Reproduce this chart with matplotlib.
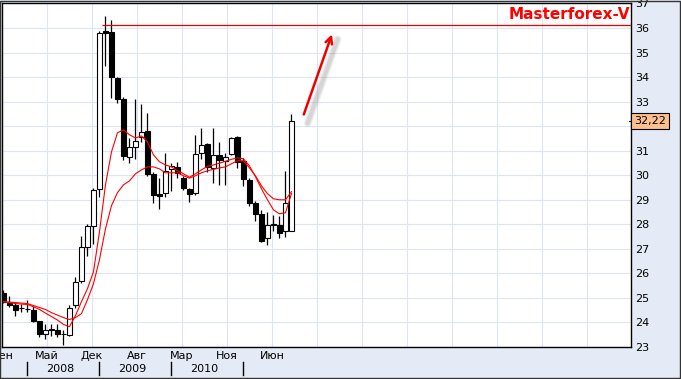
import numpy as np
import matplotlib
matplotlib.use('Agg')
import matplotlib.pyplot as plt

# monthly candles, Sep 2007 .. Sep 2011
opens  = [25.21, 24.80, 24.70, 24.59, 24.56, 24.50, 24.05, 23.54, 23.70, 23.71,
          23.55, 23.48, 24.70, 25.68, 27.08, 27.94, 29.44, 35.88, 35.85, 33.95,
          33.10, 30.76, 31.17, 31.54, 31.81, 30.06, 29.24, 29.27, 30.25, 30.33,
          29.88, 29.45, 29.27, 30.90, 31.27, 30.29, 30.83, 30.60, 30.87, 31.54,
          30.59, 29.79, 28.87, 28.43, 27.44, 27.97, 27.96, 27.74, 27.74]
highs  = [25.34, 25.07, 24.85, 24.77, 24.93, 24.66, 24.08, 23.92, 23.94, 23.92,
          23.71, 24.73, 25.86, 27.51, 28.02, 29.49, 35.88, 36.49, 36.32, 34.00,
          33.19, 31.51, 33.10, 32.89, 32.53, 30.14, 29.90, 30.90, 30.49, 30.56,
          29.98, 29.49, 31.65, 31.94, 31.32, 31.94, 31.36, 30.90, 31.56, 31.58,
          30.71, 29.90, 28.96, 28.57, 28.52, 28.39, 28.32, 30.19, 32.50]
lows   = [24.80, 24.65, 24.28, 24.44, 24.42, 24.00, 23.41, 23.31, 23.44, 23.40,
          23.10, 23.44, 24.59, 25.62, 26.69, 27.21, 29.13, 34.46, 33.15, 32.93,
          30.63, 30.49, 30.66, 31.37, 29.95, 28.87, 28.62, 29.11, 29.34, 29.90,
          29.41, 28.89, 29.20, 30.67, 30.14, 29.67, 29.61, 29.61, 30.83, 30.30,
          29.57, 28.76, 28.12, 27.28, 27.14, 27.71, 27.44, 27.50, 27.71]
closes = [24.84, 24.70, 24.50, 24.57, 24.54, 24.05, 23.51, 23.71, 23.72, 23.54,
          23.53, 24.59, 25.65, 27.08, 27.94, 29.41, 35.78, 35.81, 33.99, 33.10,
          30.80, 31.17, 31.40, 31.75, 30.05, 29.20, 29.16, 30.17, 30.37, 30.09,
          29.48, 29.22, 30.87, 31.23, 30.34, 30.83, 30.62, 30.74, 31.51, 30.55,
          29.83, 28.88, 28.44, 27.34, 27.98, 28.00, 27.65, 28.87, 32.22]

ma_fast = [24.84, 24.81, 24.77, 24.75, 24.73, 24.64, 24.53, 24.38, 24.24, 24.10,
           23.92, 23.83, 24.28, 24.85, 25.38, 26.07, 27.70, 29.61, 30.95, 31.73,
           31.85, 31.65, 31.52, 31.60, 31.36, 30.83, 30.55, 30.42, 30.34, 30.18,
           30.06, 29.92, 30.06, 30.22, 30.36, 30.42, 30.49, 30.57, 30.65, 30.71,
           30.67, 30.38, 29.94, 29.45, 29.00, 28.59, 28.43, 28.47, 29.25]
ma_slow = [24.85, 24.83, 24.81, 24.79, 24.77, 24.69, 24.61, 24.53, 24.40, 24.30,
           24.20, 24.12, 24.20, 24.36, 24.93, 25.58, 26.56, 27.82, 28.76, 29.29,
           29.61, 29.77, 30.06, 30.22, 30.34, 30.34, 30.26, 30.10, 30.10, 30.10,
           29.98, 29.88, 29.98, 30.10, 30.18, 30.24, 30.30, 30.34, 30.47, 30.59,
           30.59, 30.30, 29.98, 29.57, 29.25, 29.04, 29.00, 29.00, 29.33]

month_labels = ['Сен', 'Май', 'Дек', 'Авг', 'Мар', 'Ноя', 'Июн']
year_labels = ['2008', '2009', '2010']
year_starts = [4, 16, 28, 40]
price_ticks = list(range(23, 38))
last_price = 32.22
resist_level = 36.12
resist_from = 16.4
arrow_tail = (49.9, 32.37)
arrow_head = (54.9, 35.85)

bg = '#e5ebf6'
fig = plt.figure(figsize=(6.81, 3.79), dpi=100, facecolor=bg)
ax = fig.add_axes([2/681, 32/379, 629/681, 344/379])
ax.set_facecolor('white')

x = np.arange(len(opens))
o = np.array(opens); c = np.array(closes)
up = c >= o
bot = np.minimum(o, c)
hgt = np.maximum(np.abs(c - o), 0.015)

ax.vlines(x, lows, highs, color='black', lw=0.9, zorder=2)
ax.bar(x, hgt, bottom=bot, width=0.75, color=np.where(up, 'white', 'black'),
       edgecolor='black', linewidth=0.8, zorder=3)

ax.plot(x, ma_slow, color='#ff0000', lw=0.8, zorder=4)
ax.plot(x, ma_fast, color='#ff0000', lw=0.8, zorder=4)

ax.hlines(resist_level, resist_from, 120, color='#ee0000', lw=0.9, zorder=4)

# arrow with soft blurred shadow
for w, a in [(6, 0.08), (4.5, 0.12), (3, 0.18)]:
    ax.plot([arrow_tail[0] + 0.8, arrow_head[0] + 0.8], [arrow_tail[1] - 0.25, arrow_head[1] - 0.3],
            color='#888888', lw=w, alpha=a, solid_capstyle='round', zorder=4)
ax.annotate('', xy=arrow_head, xytext=arrow_tail,
            arrowprops=dict(arrowstyle='->', color='#ee0000', lw=1.8,
                            mutation_scale=12), zorder=5)

ax.set_xlim(-0.25, 104.6)
ax.set_ylim(23, 37.02)

xt = -0.25 + 7.5 * np.arange(14)
ax.set_xticks(xt)
ax.set_xticklabels(month_labels + [''] * (len(xt) - len(month_labels)), fontsize=8)
ax.set_yticks(price_ticks)
# the 32 label sits under the last-price box
ax.set_yticklabels(['' if t == 32 else str(t) for t in price_ticks])
ax.yaxis.tick_right()
ax.tick_params(axis='both', length=0, labelsize=8)
ax.tick_params(axis='x', pad=3)
ax.tick_params(axis='y', pad=3)
ax.grid(True, color='#dde4f2', lw=0.8)
ax.set_axisbelow(True)
for s in ax.spines.values():
    s.set_color('black')
    s.set_linewidth(1.0)

# year row
tr = ax.get_xaxis_transform()
for xs in year_starts:
    ax.plot([xs, xs], [-0.045, -0.08], color='black', lw=1, transform=tr, clip_on=False)
for i, lab in enumerate(year_labels):
    xc = (year_starts[i] + year_starts[i + 1]) / 2 - 0.5
    ax.text(xc, -0.064, lab, transform=tr, ha='center', va='center', fontsize=8)

# last price box
ytr = ax.get_yaxis_transform()
ax.plot([0.997, 1.002], [last_price, last_price], color='black', lw=0.8,
        transform=ytr, clip_on=False)
ax.text(1.005, last_price, '32,22', transform=ytr, ha='left', va='center', fontsize=8,
        bbox=dict(boxstyle='square,pad=0.25', fc='#fcc090', ec='black', lw=0.8))

ax.text(0.9985, 0.968, 'Masterforex-V', transform=ax.transAxes, ha='right', va='center',
        color='#ff0000', fontsize=11, fontweight='bold')

fig.patches.append(plt.Rectangle((0.0005, 0.002), 0.998, 0.996, transform=fig.transFigure,
                                 fill=False, ec='#333333', lw=1.0))

fig.savefig('out.png', dpi=100, facecolor=bg)
